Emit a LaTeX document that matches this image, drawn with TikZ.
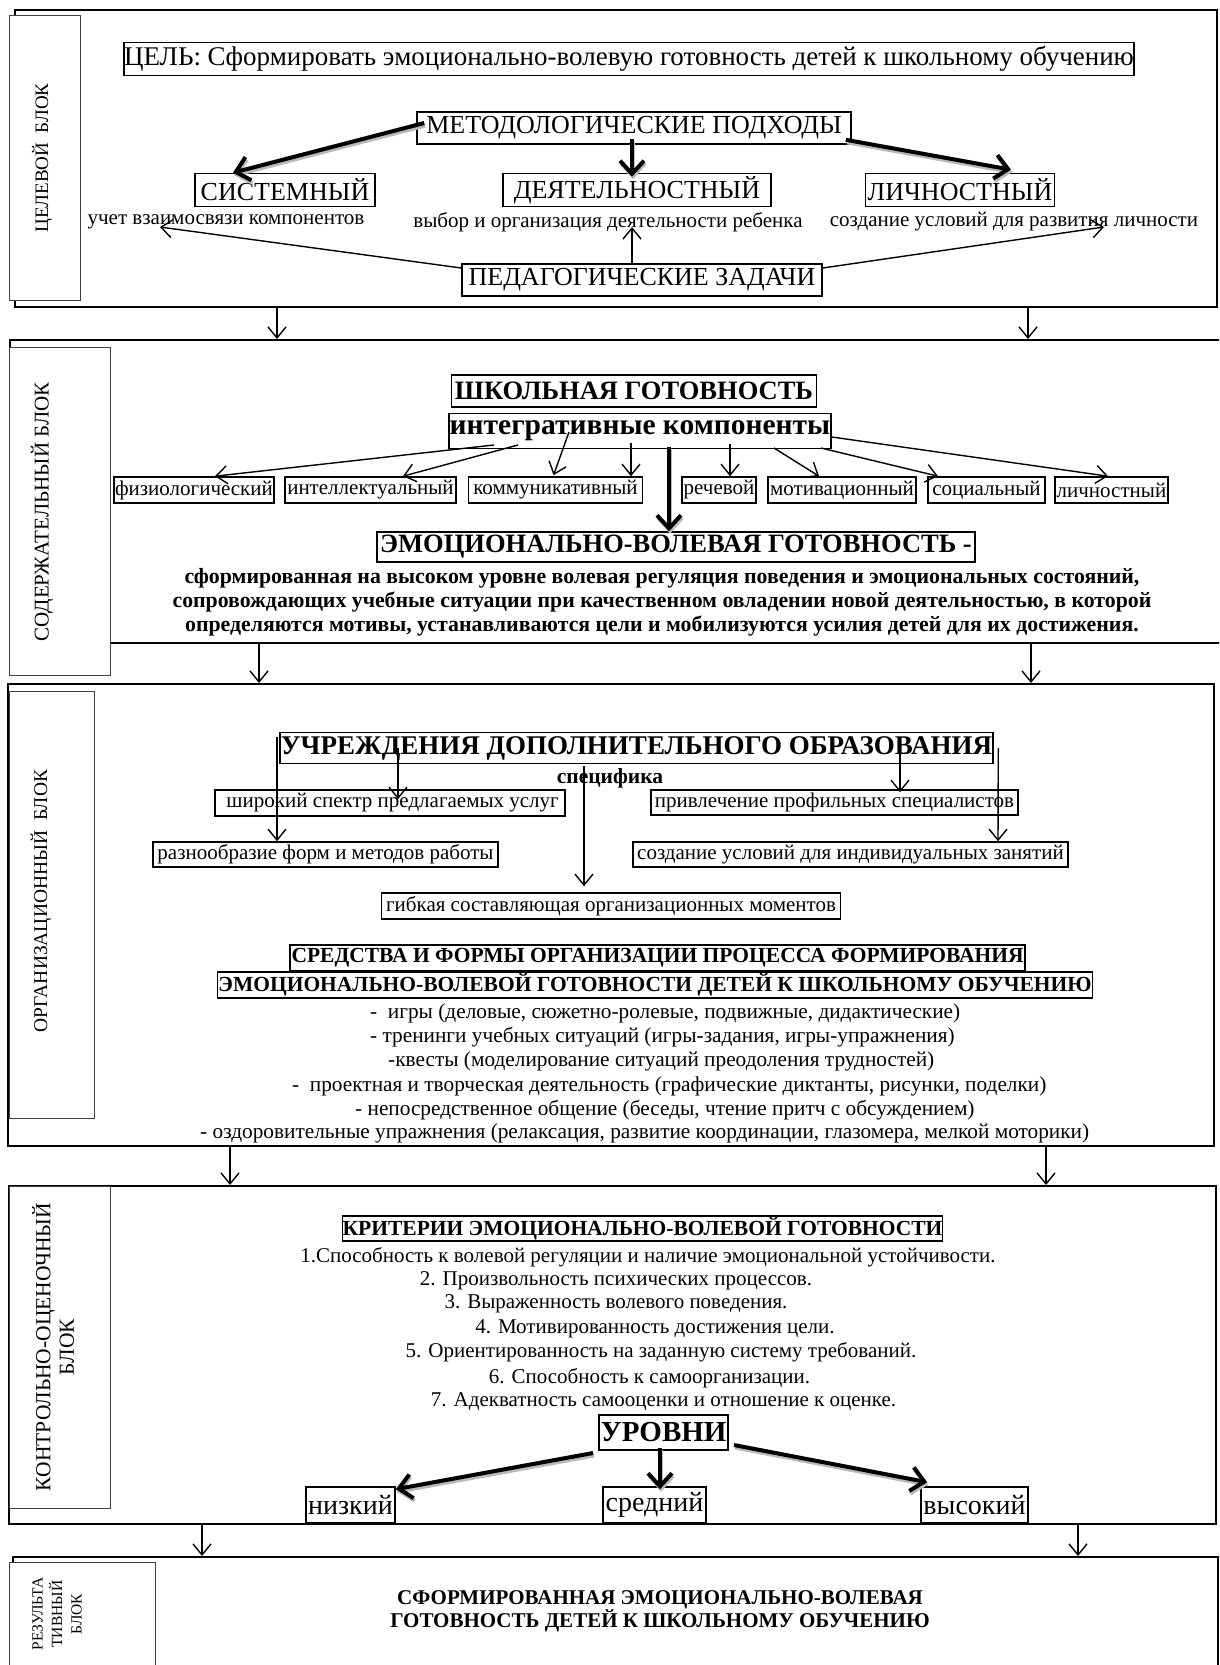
\documentclass[tikz,border=0pt]{standalone}
\usepackage{fontspec}
\setmainfont{Liberation Serif}
\usetikzlibrary{arrows.meta,calc}
\newcommand\myfs[1]{\fontsize{#1}{#1}\selectfont}
\newcommand\myfsb[2]{\fontsize{#1}{#2}\selectfont}
\begin{document}
\begin{tikzpicture}[x=1pt,y=-1pt,
  bx/.style={draw, line width=1.6pt, inner sep=0pt, align=center},
  blk/.style={draw, line width=2pt, inner sep=0pt, anchor=north west},
  lab/.style={draw=black!75, line width=1.3pt, fill=white, inner sep=0pt, anchor=north west},
  txt/.style={inner sep=0pt, align=center},
  ltxt/.style={inner sep=0pt, anchor=west},
  thinar/.style={line width=1.4pt, -{Straight Barb[length=11pt,width=18pt]}},
  thk/.style={line width=4pt, -{Straight Barb[length=13pt,width=24pt]}},
  shd/.style={thk, draw=gray!55, transform canvas={shift={(1pt,-2.5pt)}}},
]
\clip (0,0) rectangle (1219,1665);
\fill[white] (0,0) rectangle (1219,1665);

% ---------- blocks ----------
\node[blk, minimum width=1202, minimum height=297] (b1) at (14,9) {};
\node[lab, minimum width=71, minimum height=285] (l1) at (9,15) {};
\node[txt, rotate=90, font=\myfs{19}] (t1) at (42,158) {ЦЕЛЕВОЙ\ \ БЛОК};

\node[blk, minimum width=1240, minimum height=303] (b2) at (9,339) {};
\node[lab, minimum width=101, minimum height=328] (l2) at (9,347) {};
\node[txt, rotate=90, font=\myfs{21}] (t2) at (42,512) {СОДЕРЖАТЕЛЬНЫЙ БЛОК};

\node[blk, minimum width=1206, minimum height=462] (b3) at (7,683) {};
\node[lab, minimum width=85, minimum height=427] (l3) at (9,691) {};
\node[txt, rotate=90, font=\myfs{19.5}] (t3) at (41,901) {ОРГАНИЗАЦИОННЫЙ\ \ БЛОК};

\node[blk, minimum width=1207, minimum height=338] (b4) at (8,1185) {};
\node[lab, minimum width=101, minimum height=322] (l4) at (9,1186) {};
\node[txt, rotate=90, font=\myfsb{21.5}{23.5}] (t4) at (53,1347) {КОНТРОЛЬНО-ОЦЕНОЧНЫЙ\\БЛОК};

\node[blk, minimum width=1205, minimum height=200] (b5) at (12,1556) {};
\node[lab, minimum width=146, minimum height=200] (l5) at (9,1562) {};
\node[txt, rotate=90, font=\myfsb{15.5}{19.5}] (t5) at (57,1614) {РЕЗУЛЬТА\\ТИВНЫЙ\\БЛОК};

% ---------- block 1 ----------
\node[bx, minimum width=1008, minimum height=33, font=\myfs{27}] (cel) at (629,59) {ЦЕЛЬ: Сформировать эмоционально-волевую готовность детей к школьному обучению};
\node[bx, minimum width=434, minimum height=32, font=\myfs{26}] (metod) at (634,128) {МЕТОДОЛОГИЧЕСКИЕ ПОДХОДЫ};
\node[bx, minimum width=180, minimum height=33, font=\myfs{26}] (sist) at (285,190) {СИСТЕМНЫЙ};
\node[bx, minimum width=268, minimum height=33, font=\myfs{26}] (deyat) at (637,190) {ДЕЯТЕЛЬНОСТНЫЙ};
\node[bx, minimum width=189, minimum height=33, font=\myfs{26}] (lich) at (960,190) {ЛИЧНОСТНЫЙ};
\node[txt, font=\myfs{21}] (sub1) at (226,222) {учет взаимосвязи компонентов};
\node[txt, font=\myfs{21}] (sub2) at (608,222) {выбор и организация деятельности ребенка};
\node[txt, font=\myfs{21}] (sub3) at (1014,222) {создание условий для развития личности};
\node[bx, minimum width=360, minimum height=32, font=\myfs{26}] (ped) at (642,280) {ПЕДАГОГИЧЕСКИЕ ЗАДАЧИ};

\draw[shd] ($(metod.west)+(8,-5)$) -- ($(sist.north)+(-52,0)$);
\draw[thk] ($(metod.west)+(8,-5)$) -- ($(sist.north)+(-52,0)$);
\draw[shd] ($(metod.south)+(-2,-6)$) -- ($(deyat.north)+(-5,4)$);
\draw[thk] ($(metod.south)+(-2,-6)$) -- ($(deyat.north)+(-5,4)$);
\draw[shd] ($(metod.south east)+(-6,-5)$) -- ($(lich.north)+(51,-3)$);
\draw[thk] ($(metod.south east)+(-6,-5)$) -- ($(lich.north)+(51,-3)$);

\draw[thinar] ($(ped.west)+(0,-12)$) -- ($(sub1.center)+(-66,5)$);
\draw[thinar] ($(ped.north)+(-10,0)$) -- ($(sub2.center)+(24,5)$);
\draw[thinar] ($(ped.east)+(0,-12)$) -- ($(sub3.center)+(90,5)$);

% ---------- block 2 ----------
\node[bx, minimum width=365, minimum height=32, font=\bfseries\myfs{26.5}] (shk) at (634,391) {ШКОЛЬНАЯ ГОТОВНОСТЬ};
\node[bx, minimum width=382, minimum height=35, font=\bfseries\myfs{29.5}] (integ) at (640,431) {интегративные компоненты};
\node[bx, minimum width=160, minimum height=26, font=\myfs{21}] (fiz) at (194,490) {физиологический};
\node[bx, minimum width=171, minimum height=26, font=\myfs{21}] (intel) at (370.5,490) {интеллектуальный};
\node[bx, minimum width=174, minimum height=26, font=\myfs{21}] (komm) at (555.5,490) {коммуникативный};
\node[bx, minimum width=74, minimum height=26, font=\myfs{21}] (rech) at (719,490) {речевой};
\node[bx, minimum width=148, minimum height=26, font=\myfs{21}] (motiv) at (842,490) {мотивационный};
\node[bx, minimum width=117, minimum height=26, font=\myfs{21}] (soc) at (986.5,490) {социальный};
\node[bx, minimum width=113, minimum height=26, font=\myfs{21}] (lichn) at (1111.5,490) {личностный};
\node[bx, minimum width=598, minimum height=30, font=\bfseries\myfs{26.5}] (emo) at (676,547) {ЭМОЦИОНАЛЬНО-ВОЛЕВАЯ ГОТОВНОСТЬ -};
\node[txt, font=\bfseries\myfsb{21.8}{24}] (def) at (662,602) {сформированная на высоком уровне волевая регуляция поведения и эмоциональных состояний,\\сопровождающих учебные ситуации при качественном овладении новой деятельностью, в которой\\определяются мотивы, устанавливаются цели и мобилизуются усилия детей для их достижения.};

\draw[thinar] ($(integ.center)+(-146,14)$) -- ($(fiz.north)+(21,0)$);
\draw[thinar] ($(integ.center)+(-122,14)$) -- ($(intel.north)+(32.5,0)$);
\draw[thinar] ($(integ.center)+(-71,1)$) -- ($(komm.north)+(-2,-1)$);
\draw[thinar] ($(integ.center)+(-9,12)$) -- ($(komm.north)+(75.5,0)$);
\draw[thinar] ($(integ.center)+(90,13)$) -- ($(rech.north)+(11,0)$);
\draw[thinar] ($(integ.center)+(134,17)$) -- ($(motiv.north)+(-23,0)$);
\draw[thinar] ($(integ.center)+(181,17)$) -- ($(soc.north)+(-48.5,0)$);
\draw[thinar] ($(integ.east)+(0,6)$) -- ($(lichn.north)+(-3.5,0)$);
\draw[shd] ($(integ.center)+(29,16)$) -- ($(emo.north)+(-7,0)$);
\draw[thk] ($(integ.center)+(29,16)$) -- ($(emo.north)+(-7,0)$);

% ---------- block 3 ----------
\node[bx, minimum width=713, minimum height=31, font=\bfseries\myfs{27}] (uchr) at (636.5,748) {УЧРЕЖДЕНИЯ ДОПОЛНИТЕЛЬНОГО ОБРАЗОВАНИЯ};
\node[txt, font=\bfseries\myfs{21.5}] (spec) at (610,778) {специфика};
\node[bx, minimum width=350, minimum height=26, font=\myfs{21}] (shir) at (390,803) {\ широкий спектр предлагаемых услуг};
\node[bx, minimum width=367, minimum height=25, font=\myfs{21}] (priv) at (834.5,802.5) {привлечение профильных специалистов};
\node[bx, minimum width=345, minimum height=25, font=\myfs{21}] (razn) at (325.5,854.5) {разнообразие форм и методов работы};
\node[bx, minimum width=435, minimum height=25, font=\myfs{21}] (sozd) at (850.5,854.5) {создание условий для индивидуальных занятий};
\node[bx, minimum width=459, minimum height=26, font=\myfs{21}] (gib) at (611,906) {гибкая составляющая организационных моментов};
\node[bx, minimum width=735, minimum height=26, font=\bfseries\myfs{21.5}] (sred1) at (657.5,958) {СРЕДСТВА И ФОРМЫ ОРГАНИЗАЦИИ ПРОЦЕССА ФОРМИРОВАНИЯ};
\node[bx, minimum width=875, minimum height=26, font=\bfseries\myfs{21.5}] (sred2) at (655,985) {ЭМОЦИОНАЛЬНО-ВОЛЕВОЙ ГОТОВНОСТИ ДЕТЕЙ К ШКОЛЬНОМУ ОБУЧЕНИЮ};
\node[ltxt, font=\myfs{21.3}] (f1) at (370,1013) {-\ \ игры (деловые, сюжетно-ролевые, подвижные, дидактические)};
\node[ltxt, font=\myfs{21.3}] (f2) at (370,1037) {- тренинги учебных ситуаций (игры-задания, игры-упражнения)};
\node[ltxt, font=\myfs{21.3}] (f3) at (388,1061) {-квесты (моделирование ситуаций преодоления трудностей)};
\node[ltxt, font=\myfs{21.3}] (f4) at (292,1086) {-\ \ проектная и творческая деятельность (графические диктанты, рисунки, поделки)};
\node[ltxt, font=\myfs{21.3}] (f5) at (355,1110) {- непосредственное общение (беседы, чтение притч с обсуждением)};
\node[ltxt, font=\myfs{21.3}] (f6) at (200,1133) {- оздоровительные упражнения (релаксация, развитие координации, глазомера, мелкой моторики)};

\draw[thinar] ($(uchr.center)+(-359.5,-11)$) -- ($(razn.north)+(-48.5,0)$);
\draw[thinar] ($(uchr.center)+(-238.5,0)$) -- ($(shir.north)+(8,10)$);
\draw[thinar] ($(uchr.center)+(-52.5,18)$) -- ($(gib.north)+(-27,-6)$);
\draw[thinar] ($(uchr.center)+(263.5,0)$) -- ($(priv.north)+(65.5,3)$);
\draw[thinar] ($(uchr.east)+(4.5,0)$) -- ($(sozd.north)+(147.5,0)$);

% ---------- block 4 ----------
\node[bx, minimum width=599, minimum height=25, font=\bfseries\myfs{21.5}] (krit) at (642.5,1228.5) {КРИТЕРИИ ЭМОЦИОНАЛЬНО-ВОЛЕВОЙ ГОТОВНОСТИ};
\node[txt, font=\myfs{21}] (k1) at (648,1257) {1.Способность к волевой регуляции и наличие эмоциональной устойчивости.};
\node[txt, font=\myfs{21}] (k2) at (616,1281) {2. Произвольность психических процессов.};
\node[txt, font=\myfs{21}] (k3) at (616,1304) {3. Выраженность волевого поведения.};
\node[txt, font=\myfs{21}] (k4) at (655,1329) {4. Мотивированность достижения цели.};
\node[txt, font=\myfs{21}] (k5) at (661,1352) {5. Ориентированность на заданную систему требований.};
\node[txt, font=\myfs{21}] (k6) at (649.5,1378) {6. Способность к самоорганизации.};
\node[txt, font=\myfs{21}] (k7) at (663.5,1402) {7. Адекватность самооценки и отношение к оценке.};
\node[bx, minimum width=129, minimum height=35, font=\bfseries\myfs{29}] (urov) at (663.5,1432.5) {УРОВНИ};
\node[bx, minimum width=89, minimum height=36, font=\myfs{28}] (niz) at (350.5,1505) {низкий};
\node[bx, minimum width=103, minimum height=36, font=\myfs{28}] (sred) at (654.5,1505) {средний};
\node[bx, minimum width=107, minimum height=36, font=\myfs{28}] (vys) at (974.5,1505) {высокий};

\draw[shd] ($(urov.center)+(-70.5,20.5)$) -- ($(niz.north east)+(0,3)$);
\draw[thk] ($(urov.center)+(-70.5,20.5)$) -- ($(niz.north east)+(0,3)$);
\draw[shd] ($(urov.south)+(-3.5,-3)$) -- ($(sred.north)+(5.5,3)$);
\draw[thk] ($(urov.south)+(-3.5,-3)$) -- ($(sred.north)+(5.5,3)$);
\draw[shd] ($(urov.center)+(70.5,12.5)$) -- ($(vys.north west)+(7,-4)$);
\draw[thk] ($(urov.center)+(70.5,12.5)$) -- ($(vys.north west)+(7,-4)$);

% ---------- block 5 ----------
\node[txt, font=\bfseries\myfsb{21}{23}] (res) at (660,1611.5) {СФОРМИРОВАННАЯ ЭМОЦИОНАЛЬНО-ВОЛЕВАЯ\\ГОТОВНОСТЬ ДЕТЕЙ К ШКОЛЬНОМУ ОБУЧЕНИЮ};

% ---------- arrows between blocks ----------
\coordinate (c1a) at ($(b1.south west)+(263,0)$);
\coordinate (c1b) at ($(b1.south west)+(1014,0)$);
\draw[thinar] (c1a) -- (c1a |- b2.north);
\draw[thinar] (c1b) -- (c1b |- b2.north);
\coordinate (c2a) at ($(b2.south west)+(250,0)$);
\coordinate (c2b) at ($(b2.south west)+(1022,0)$);
\draw[thinar] (c2a) -- (c2a |- b3.north);
\draw[thinar] (c2b) -- (c2b |- b3.north);
\coordinate (c3a) at ($(b3.south west)+(223,0)$);
\coordinate (c3b) at ($(b3.south west)+(1039,0)$);
\draw[thinar] (c3a) -- (c3a |- b4.north);
\draw[thinar] (c3b) -- (c3b |- b4.north);
\coordinate (c4a) at ($(b4.south west)+(194,0)$);
\coordinate (c4b) at ($(b4.south west)+(1070,0)$);
\draw[thinar] (c4a) -- (c4a |- b5.north);
\draw[thinar] (c4b) -- (c4b |- b5.north);
\end{tikzpicture}
\end{document}
